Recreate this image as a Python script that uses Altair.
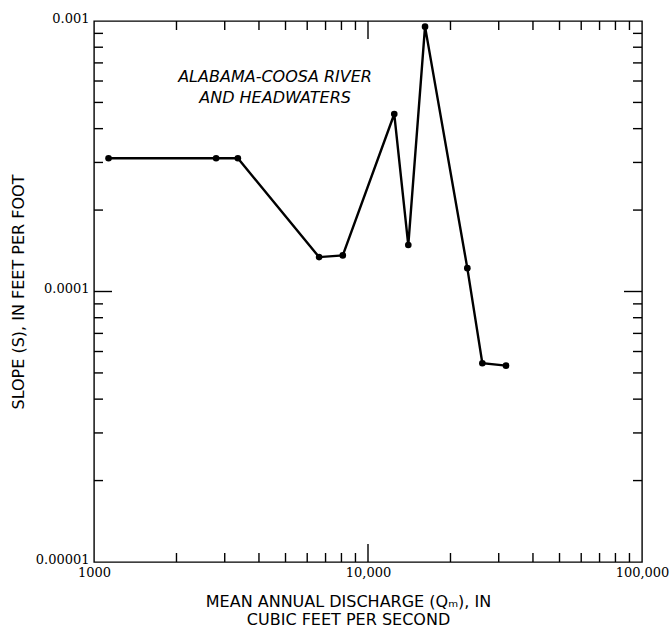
import altair as alt
import pandas as pd

# Mean annual discharge (cfs) and channel slope (ft/ft) along the river
discharge = [1130, 2790, 3350, 6630, 8090, 12470, 14030, 16150, 23040, 26140, 31890]
slope = [3.11e-4, 3.11e-4, 3.11e-4, 1.34e-4, 1.36e-4, 4.53e-4, 1.485e-4, 9.53e-4,
         1.22e-4, 5.43e-5, 5.32e-5]

# Log-cycle tick positions drawn inside the frame
x_minor = [2000, 3000, 4000, 5000, 6000, 7000, 8000, 9000,
           20000, 30000, 40000, 50000, 60000, 70000, 80000, 90000]
x_major = [10000]
y_minor = [2e-5, 3e-5, 4e-5, 5e-5, 6e-5, 7e-5, 8e-5, 9e-5,
           2e-4, 3e-4, 4e-4, 5e-4, 6e-4, 7e-4, 8e-4, 9e-4]
y_major = [1e-4]

x_labels = [1000, 10000, 100000]
y_labels = [0.001, 0.0001, 0.00001]

note_x = [4580]
note_y = [6.2e-4]
note_text = [["ALABAMA-COOSA RIVER", "AND HEADWATERS"]]

W, H = 548, 541
MINOR, MAJOR = 9, 18

TICK_FONT = "DejaVu Serif"
TITLE_FONT = "DejaVu Sans"

x_scale = alt.Scale(type="log", domain=[1000, 100000], nice=False)
y_scale = alt.Scale(type="log", domain=[0.00001, 0.001], nice=False)

x_axis = alt.Axis(
    values=x_labels,
    labelExpr="datum.value == 1000 ? '1000' : format(datum.value, ',')",
    ticks=False, grid=False, domain=False,
    labelFont=TICK_FONT, labelFontSize=13, labelColor="black",
    labelPadding=4, labelFlush=False, labelOverlap=False, labelBound=False,
    title=["MEAN ANNUAL DISCHARGE (Qₘ), IN", "CUBIC FEET PER SECOND"],
    titleFont=TITLE_FONT, titleFontSize=16, titleFontWeight="normal",
    titleColor="black", titleLineHeight=18,
    titleX=254, titleY=31, titleAlign="center", titleBaseline="top",
    titleAnchor="middle",
)
y_axis = alt.Axis(
    values=y_labels,
    labelExpr="format(datum.value, '.5~f')",
    ticks=False, grid=False, domain=False,
    labelFont=TICK_FONT, labelFontSize=13, labelColor="black",
    labelPadding=5, labelFlush=False, labelOverlap=False, labelBound=False,
    labelBaseline="alphabetic", labelOffset=1,
    title="SLOPE (S), IN FEET PER FOOT",
    titleFont=TITLE_FONT, titleFontSize=16, titleFontWeight="normal",
    titleColor="black",
    titleX=-76, titleY=H / 2, titleAlign="center", titleBaseline="middle",
    titleAngle=-90,
)

data = pd.DataFrame({"q": discharge, "s": slope})

line = alt.Chart(data).mark_line(color="black", strokeWidth=2.4).encode(
    x=alt.X("q:Q", scale=x_scale, axis=x_axis),
    y=alt.Y("s:Q", scale=y_scale, axis=y_axis),
    order=alt.Order("q:Q"),
)
points = alt.Chart(data).mark_circle(color="black", opacity=1, size=44).encode(
    x=alt.X("q:Q", scale=x_scale, axis=x_axis),
    y=alt.Y("s:Q", scale=y_scale, axis=y_axis),
)


def x_ticks(values, length):
    df = pd.DataFrame({"v": values})
    enc_x = alt.X("v:Q", scale=x_scale, axis=x_axis)
    base = alt.Chart(df).mark_rule(color="black", strokeWidth=1.4)
    bottom = base.encode(x=enc_x, y=alt.value(H), y2=alt.value(H - length))
    top = base.encode(x=enc_x, y=alt.value(0), y2=alt.value(length))
    return [bottom, top]


def y_ticks(values, length):
    df = pd.DataFrame({"v": values})
    enc_y = alt.Y("v:Q", scale=y_scale, axis=y_axis)
    base = alt.Chart(df).mark_rule(color="black", strokeWidth=1.4)
    left = base.encode(y=enc_y, x=alt.value(0), x2=alt.value(length))
    right = base.encode(y=enc_y, x=alt.value(W), x2=alt.value(W - length))
    return [left, right]


tick_layers = (x_ticks(x_minor, MINOR) + x_ticks(x_major, MAJOR)
               + y_ticks(y_minor, MINOR) + y_ticks(y_major, MAJOR))

note = alt.Chart(pd.DataFrame({"x": note_x, "y": note_y, "t": note_text})).mark_text(
    font=TITLE_FONT, fontSize=16, fontStyle="italic", color="black",
    align="center", baseline="middle", lineHeight=21,
).encode(
    x=alt.X("x:Q", scale=x_scale, axis=x_axis),
    y=alt.Y("y:Q", scale=y_scale, axis=y_axis),
    text="t",
)

chart = alt.layer(*tick_layers, line, points, note).properties(
    width=W, height=H,
    autosize=alt.AutoSizeParams(type="none"),
    padding={"left": 94, "top": 21, "right": 28, "bottom": 65},
    background="white",
).configure_view(stroke="black", strokeWidth=1.4)

chart.save("out.html", embed_options={"renderer": "svg", "actions": False})
